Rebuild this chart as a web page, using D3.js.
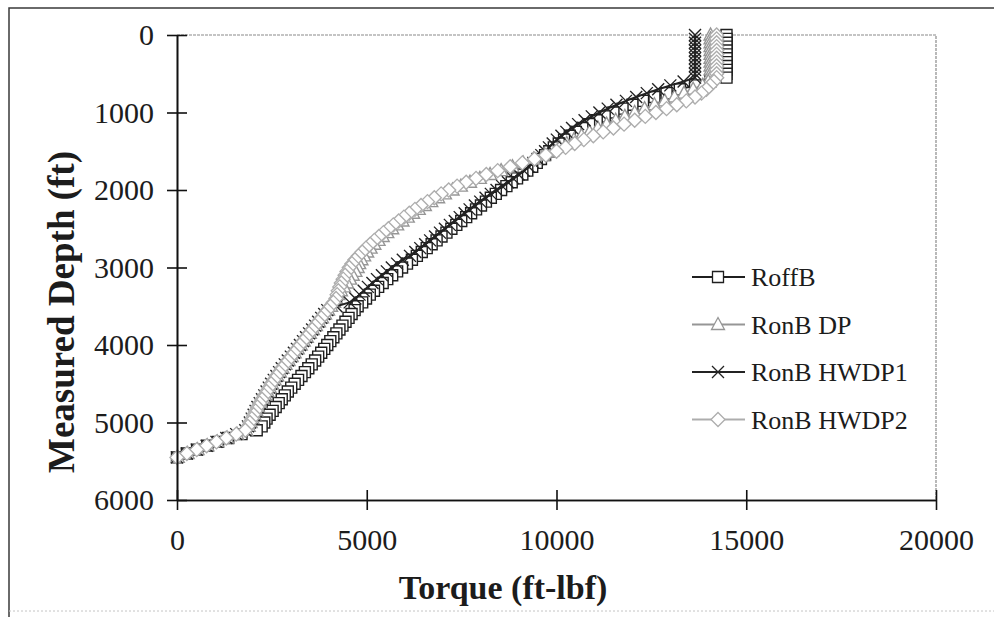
<!DOCTYPE html>
<html>
<head>
<meta charset="utf-8">
<script src="https://cdn.jsdelivr.net/npm/d3@7/dist/d3.min.js"></script>
<style>
  body { margin: 0; background: #fff; }
  svg text { font-family: "Liberation Serif", "Times New Roman", serif; fill: #1c1c1c; }
</style>
</head>
<body>
<svg id="chart" width="994" height="617"></svg>
<script>
"use strict";
// depth (ft) shared by all four series
const depthFt = [
  0, 50, 100, 150, 200, 250, 300, 350, 400, 450,
  500, 550, 600, 650, 700, 750, 800, 850, 900, 950,
  1000, 1050, 1100, 1150, 1200, 1250, 1300, 1350, 1400, 1450,
  1500, 1550, 1600, 1650, 1700, 1750, 1800, 1850, 1900, 1950,
  2000, 2050, 2100, 2150, 2200, 2250, 2300, 2350, 2400, 2450,
  2500, 2550, 2600, 2650, 2700, 2750, 2800, 2850, 2900, 2950,
  3000, 3050, 3100, 3150, 3200, 3250, 3300, 3350, 3400, 3450,
  3500, 3550, 3600, 3650, 3700, 3750, 3800, 3850, 3900, 3950,
  4000, 4050, 4100, 4150, 4200, 4250, 4300, 4350, 4400, 4450,
  4500, 4550, 4600, 4650, 4700, 4750, 4800, 4850, 4900, 4950,
  5000, 5050, 5100, 5150, 5200, 5250, 5300, 5350, 5400, 5450
];

// torque (ft-lbf)
const roffB = [
  14480, 14480, 14480, 14480, 14480, 14480, 14480, 14480, 14480, 14480,
  14480, 14480, 14050, 13650, 13250, 12900, 12580, 12280, 12000, 11740,
  11500, 11270, 11060, 10860, 10680, 10510, 10350, 10200, 10060, 9930,
  9810, 9700, 9590, 9480, 9360, 9230, 9100, 8960, 8820, 8680,
  8540, 8400, 8270, 8140, 8010, 7880, 7750, 7620, 7490, 7360,
  7230, 7100, 6970, 6840, 6710, 6580, 6450, 6320, 6190, 6060,
  5930, 5800, 5670, 5540, 5420, 5300, 5190, 5080, 4980, 4880,
  4760, 4680, 4600, 4520, 4440, 4360, 4280, 4200, 4120, 4040,
  3960, 3880, 3800, 3720, 3640, 3550, 3460, 3370, 3280, 3190,
  3100, 3010, 2920, 2840, 2760, 2680, 2600, 2520, 2440, 2360,
  2300, 2230, 2100, 1700, 1350, 1080, 800, 530, 260, 0
];
const ronBDP = [
  14060, 14060, 14060, 14060, 14060, 14060, 14060, 14060, 14060, 14060,
  14060, 14060, 14000, 13850, 13600, 13360, 13110, 12850, 12580, 12320,
  12060, 11800, 11560, 11320, 11090, 10870, 10660, 10460, 10270, 10080,
  9880, 9650, 9400, 9120, 8840, 8540, 8250, 7980, 7720, 7480,
  7260, 7060, 6880, 6700, 6530, 6370, 6220, 6080, 5940, 5800,
  5670, 5540, 5420, 5310, 5200, 5100, 5010, 4930, 4860, 4800,
  4760, 4700, 4630, 4560, 4480, 4400, 4320, 4250, 4190, 4140,
  4060, 3980, 3900, 3820, 3740, 3660, 3580, 3500, 3420, 3340,
  3260, 3180, 3100, 3020, 2940, 2860, 2780, 2710, 2640, 2570,
  2500, 2440, 2380, 2320, 2260, 2200, 2140, 2090, 2040, 1990,
  1940, 1890, 1820, 1580, 1320, 1060, 800, 540, 280, 20
];
const ronBHWDP1 = [
  13650, 13650, 13650, 13650, 13650, 13650, 13650, 13650, 13650, 13650,
  13650, 13650, 13350, 13000, 12680, 12380, 12100, 11830, 11580, 11350,
  11130, 10930, 10740, 10570, 10410, 10260, 10130, 10010, 9900, 9800,
  9700, 9600, 9500, 9390, 9270, 9140, 9000, 8860, 8720, 8570,
  8420, 8270, 8130, 7990, 7850, 7710, 7580, 7450, 7320, 7190,
  7060, 6930, 6800, 6670, 6540, 6410, 6280, 6140, 5950, 5800,
  5660, 5530, 5400, 5270, 5150, 5030, 4920, 4810, 4700, 4550,
  4200, 3960, 3880, 3800, 3720, 3640, 3560, 3480, 3400, 3320,
  3240, 3160, 3080, 3000, 2920, 2840, 2760, 2690, 2620, 2550,
  2480, 2420, 2360, 2300, 2240, 2180, 2120, 2070, 2020, 1970,
  1920, 1870, 1800, 1560, 1300, 1040, 780, 520, 260, 0
];
const ronBHWDP2 = [
  14220, 14220, 14220, 14220, 14220, 14220, 14220, 14220, 14220, 14220,
  14220, 14220, 14150, 14050, 13950, 13820, 13650, 13420, 13170, 12900,
  12620, 12340, 12060, 11780, 11500, 11230, 10970, 10720, 10480, 10240,
  10000, 9720, 9420, 9100, 8780, 8450, 8150, 7880, 7620, 7380,
  7160, 6960, 6780, 6600, 6430, 6270, 6120, 5980, 5840, 5700,
  5570, 5440, 5320, 5200, 5090, 4980, 4880, 4780, 4690, 4610,
  4540, 4480, 4430, 4380, 4330, 4290, 4250, 4220, 4190, 4120,
  4040, 3960, 3880, 3800, 3720, 3640, 3560, 3480, 3400, 3320,
  3240, 3160, 3080, 3000, 2920, 2840, 2760, 2690, 2620, 2550,
  2480, 2420, 2360, 2300, 2240, 2180, 2120, 2070, 2020, 1970,
  1920, 1870, 1800, 1560, 1300, 1040, 780, 520, 260, 0
];

const seriesNames = ["RoffB", "RonB DP", "RonB HWDP1", "RonB HWDP2"];
const depthTicks = [0, 1000, 2000, 3000, 4000, 5000, 6000];
const torqueTicks = [0, 5000, 10000, 15000, 20000];

const series = [
  { name: seriesNames[0], values: roffB,     color: "#1f1f1f", marker: "square" },
  { name: seriesNames[1], values: ronBDP,    color: "#969696", marker: "triangle" },
  { name: seriesNames[2], values: ronBHWDP1, color: "#232323", marker: "cross" },
  { name: seriesNames[3], values: ronBHWDP2, color: "#adadad", marker: "diamond" }
];

const svg = d3.select("#chart");

// outer chart frame (runs off the right of the picture)
svg.append("path")
  .attr("d", "M1000,8H9V617")
  .attr("fill", "none").attr("stroke", "#3a3a3a").attr("stroke-width", 1.5);
svg.append("line")
  .attr("x1", 9).attr("x2", 994).attr("y1", 611).attr("y2", 611)
  .attr("stroke", "#c4c4c4").attr("stroke-width", 1).attr("stroke-dasharray", "2,2");

const x = d3.scaleLinear().domain([0, 20000]).range([177, 936]);
const y = d3.scaleLinear().domain([0, 6000]).range([35, 500]);

// plot area border (top / right), grey dotted
svg.append("path")
  .attr("d", `M${x(0)},${y(0)}H${x(20000)}V${y(6000)}`)
  .attr("fill", "none").attr("stroke", "#8a8a8a").attr("stroke-width", 1.2)
  .attr("stroke-dasharray", "3,1");

function markerPath(type) {
  if (type === "square") return "M-5.5,-5.5H5.5V5.5H-5.5Z";
  if (type === "triangle") return "M0,-7L6.5,5L-6.5,5Z";
  if (type === "diamond") return "M0,-7L7,0L0,7L-7,0Z";
  return "M-6,-6L6,6M-6,6L6,-6";
}

const line = d3.line()
  .x((d) => x(d[0]))
  .y((d) => y(d[1]));

const plot = svg.append("g");
series.forEach((s) => {
  const pts = s.values.map((v, i) => [v, depthFt[i]]);
  const g = plot.append("g");
  g.append("path")
    .datum(pts)
    .attr("d", line)
    .attr("fill", "none")
    .attr("stroke", s.color)
    .attr("stroke-width", 2);
  g.selectAll("path.m")
    .data(pts)
    .enter()
    .append("path")
    .attr("class", "m")
    .attr("transform", (d) => `translate(${x(d[0])},${y(d[1])})`)
    .attr("d", markerPath(s.marker))
    .attr("fill", s.marker === "cross" ? "none" : "#fff")
    .attr("stroke", s.color)
    .attr("stroke-width", 1.4);
});

// axes with ticks crossing the line
function styleAxis(g) {
  g.selectAll("path.domain").attr("stroke", "#111").attr("stroke-width", 1.6);
  g.selectAll(".tick line").attr("stroke", "#111").attr("stroke-width", 1.6);
  g.selectAll("text").attr("font-size", 30).attr("fill", "#1c1c1c")
    .attr("font-family", "Liberation Serif, Times New Roman, serif");
}

const plain = d3.format("d");

svg.append("g")
  .attr("transform", `translate(${x(0)},0)`)
  .call(d3.axisLeft(y).tickValues(depthTicks).tickFormat(plain)
    .tickSizeInner(10).tickSizeOuter(0).tickPadding(13))
  .call(styleAxis);
svg.append("g")
  .attr("transform", `translate(${x(0)},0)`)
  .call(d3.axisLeft(y).tickValues(depthTicks).tickSizeInner(-10).tickSizeOuter(0).tickFormat(""))
  .call(styleAxis);

svg.append("g")
  .attr("transform", `translate(0,${y(6000)})`)
  .call(d3.axisBottom(x).tickValues(torqueTicks).tickFormat(plain)
    .tickSizeInner(10).tickSizeOuter(0).tickPadding(19))
  .call(styleAxis);
svg.append("g")
  .attr("transform", `translate(0,${y(6000)})`)
  .call(d3.axisBottom(x).tickValues(torqueTicks).tickSizeInner(-10).tickSizeOuter(0).tickFormat(""))
  .call(styleAxis);

// axis titles
svg.append("text")
  .attr("x", 503).attr("y", 599)
  .attr("text-anchor", "middle")
  .attr("font-size", 34).attr("font-weight", "bold")
  .text("Torque (ft-lbf)");
svg.append("text")
  .attr("transform", "translate(74,312) rotate(-90)")
  .attr("text-anchor", "middle")
  .attr("font-size", 37).attr("font-weight", "bold")
  .text("Measured Depth (ft)");

// legend
const legend = svg.append("g");
series.forEach((s, i) => {
  const ly = 277 + i * 47.5;
  legend.append("line")
    .attr("x1", 692).attr("x2", 745).attr("y1", ly).attr("y2", ly)
    .attr("stroke", s.color).attr("stroke-width", 1.8);
  legend.append("path")
    .attr("transform", `translate(718,${ly})`)
    .attr("d", markerPath(s.marker))
    .attr("fill", s.marker === "cross" ? "none" : "#fff")
    .attr("stroke", s.color).attr("stroke-width", 1.3);
  legend.append("text")
    .attr("x", 751).attr("y", ly)
    .attr("dy", "0.35em")
    .attr("font-size", 26)
    .text(s.name);
});
</script>
</body>
</html>
